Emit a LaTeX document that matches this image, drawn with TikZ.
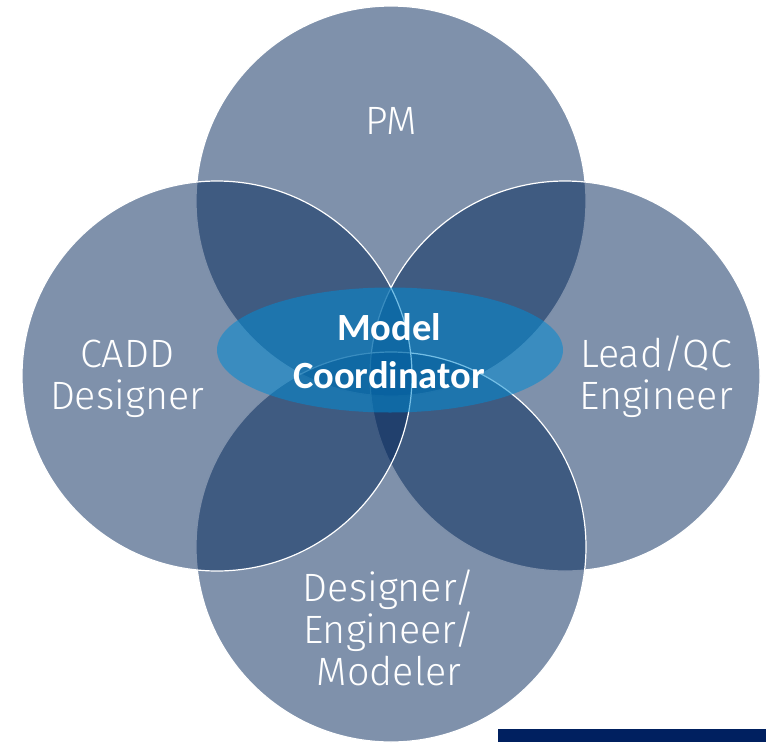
\documentclass[tikz,border=0pt]{standalone}
\usepackage{fontspec}
\newfontfamily\labelfont{Fira Sans Light}
\newfontfamily\corefont{Carlito}
\usetikzlibrary{shapes.geometric}
\definecolor{roleblue}{RGB}{3,39,90}
\definecolor{corecyan}{RGB}{2,138,209}
\definecolor{barnavy}{RGB}{0,32,96}
\begin{document}
\begin{tikzpicture}[x=1pt,y=-1pt,
  role/.style={circle, minimum size=390pt, inner sep=0pt,
    fill=roleblue, fill opacity=0.51, draw=white, draw opacity=1, line width=1.2pt},
  rolelabel/.style={text=white, align=center, anchor=base,
    font=\labelfont\fontsize{39.5}{42}\selectfont, inner sep=0pt},
  core/.style={ellipse, minimum width=346pt, minimum height=125pt, inner sep=0pt,
    fill=corecyan, fill opacity=0.55, draw=none},
  corelabel/.style={text=white, align=center, anchor=base,
    font=\corefont\bfseries\fontsize{38.5}{48}\selectfont, inner sep=0pt}]
\useasboundingbox (0,0) rectangle (766,742);
% the four role circles, in stacking order
\node[role] (pm)    at (391,201) {};
\node[role] (lead)  at (565,376) {};
\node[role] (model) at (391,547) {};
\node[role] (cadd)  at (217,376) {};
% shared centre
\node[core] (coord) at (390,350) {};
% labels (anchored on the baseline of their last line)
\node[rolelabel] (pmtext)    at (391,134) {PM};
\node[rolelabel] (caddtext)  at (127,409) {CADD\\Designer};
\node[rolelabel] (leadtext)  at (656,409) {Lead/QC\\Engineer};
\node[rolelabel] (modeltext) at (389,685) {Designer/\\Engineer/\\Modeler};
\node[corelabel] (coordtext) at (389,388) {Model\\Coordinator};
% footer bar
\fill[barnavy] (498,729) rectangle (766,742);
\end{tikzpicture}
\end{document}
